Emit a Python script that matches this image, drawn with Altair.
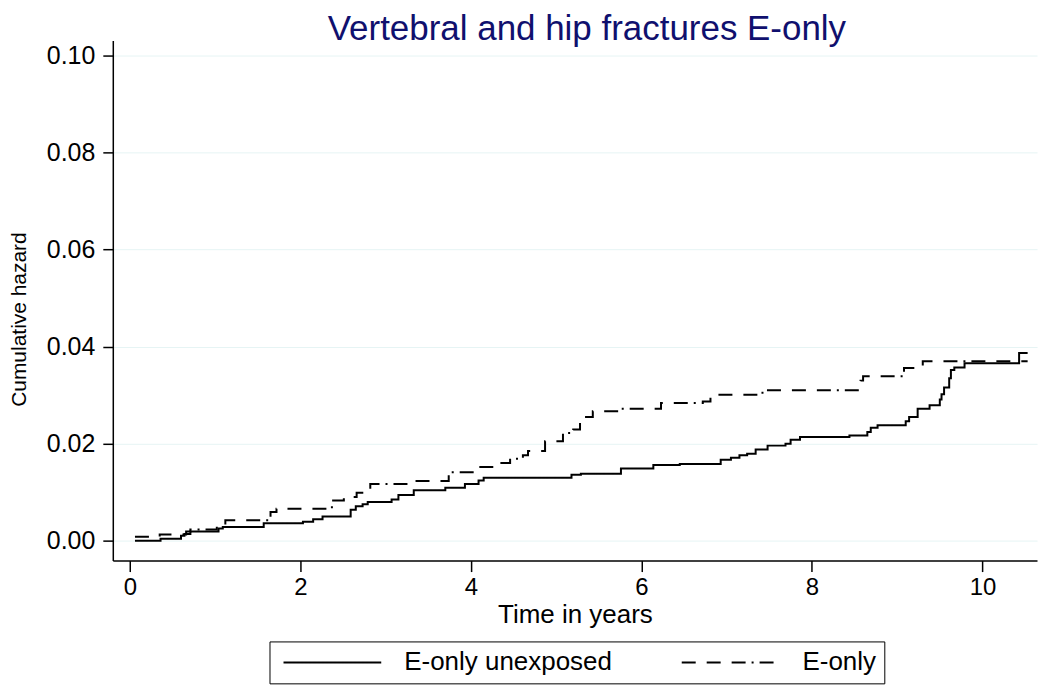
import altair as alt
import pandas as pd

series_names = ["E-only unexposed", "E-only"]

unexp_t = [0.06, 0.36, 0.60, 0.64, 0.71, 1.04, 1.09, 1.57, 2.03, 2.15, 2.26, 2.59, 2.65, 2.73,
           2.79, 3.07, 3.15, 3.33, 3.70, 3.93, 4.09, 4.15, 5.18, 5.29, 5.76, 6.14, 6.45, 6.93,
           7.05, 7.15, 7.24, 7.34, 7.48, 7.69, 7.75, 7.86, 8.44, 8.65, 8.69, 8.77, 9.10, 9.14,
           9.24, 9.38, 9.50, 9.52, 9.55, 9.61, 9.63, 9.67, 9.79, 10.43, 10.53]
unexp_h = [0.0, 0.0004, 0.0010, 0.0014, 0.0019, 0.0025, 0.0028, 0.0036, 0.0039, 0.0044, 0.0050,
           0.0064, 0.0071, 0.0075, 0.0080, 0.0085, 0.0094, 0.0104, 0.0109, 0.0117, 0.0124,
           0.0130, 0.0136, 0.0138, 0.0149, 0.0156, 0.0158, 0.0167, 0.0171, 0.0176, 0.0179,
           0.0188, 0.0196, 0.0200, 0.0208, 0.0214, 0.0217, 0.0224, 0.0233, 0.0238, 0.0246,
           0.0255, 0.0272, 0.0279, 0.0291, 0.0302, 0.0316, 0.0335, 0.0352, 0.0357, 0.0366,
           0.0387, 0.0387]

eonly_t = [0.06, 0.35, 0.66, 0.71, 1.02, 1.12, 1.65, 1.72, 2.37, 2.51, 2.66, 2.82, 3.27, 3.74,
           4.06, 4.34, 4.46, 4.61, 4.67, 4.87, 5.08, 5.20, 5.28, 5.43, 5.75, 6.23, 6.72, 6.81,
           7.42, 8.57, 8.60, 9.08, 9.30, 10.53]
eonly_h = [0.0008, 0.0013, 0.0019, 0.0023, 0.0029, 0.0042, 0.0059, 0.0066, 0.0083, 0.0090,
           0.0099, 0.0117, 0.0123, 0.0141, 0.0152, 0.0160, 0.0169, 0.0176, 0.0185, 0.0205,
           0.0222, 0.0229, 0.0255, 0.0267, 0.0272, 0.0284, 0.0287, 0.0301, 0.0310, 0.0330,
           0.0339, 0.0356, 0.0370, 0.0370]

x_ticks = [0, 2, 4, 6, 8, 10]
y_ticks = [0.00, 0.02, 0.04, 0.06, 0.08, 0.10]

rows = []
for t, h in zip(unexp_t, unexp_h):
    rows.append({"time": t, "hazard": h, "group": series_names[0]})
for t, h in zip(eonly_t, eonly_h):
    rows.append({"time": t, "hazard": h, "group": series_names[1]})
df = pd.DataFrame(rows)

FONT = "Liberation Sans"

chart = alt.Chart(df).mark_line(
    interpolate="step-after", strokeWidth=2, color="black"
).encode(
    x=alt.X("time:Q",
            scale=alt.Scale(domain=[-0.2, 10.64], nice=False, zero=False),
            axis=alt.Axis(values=x_ticks, title="Time in years", grid=False,
                          format="d", tickSize=11, labelPadding=4,
                          titlePadding=2, titleFontSize=26)),
    y=alt.Y("hazard:Q",
            scale=alt.Scale(domain=[-0.0041, 0.1031], nice=False, zero=False),
            axis=alt.Axis(values=y_ticks, title="Cumulative hazard", format=".2f",
                          grid=True, gridColor="#e6f4f4", gridWidth=1,
                          tickSize=10, labelPadding=8, titlePadding=17,
                          labelFontSize=25, titleFontSize=21, titleY=279)),
    strokeDash=alt.StrokeDash(
        "group:N",
        scale=alt.Scale(domain=series_names, range=[[1, 0], [14, 11, 14, 11, 14, 6, 2, 6]]),
        legend=alt.Legend(title=None, orient="none", legendX=157, legendY=602,
                          direction="horizontal",
                          symbolType="M-4.08,0H4.08",
                          symbolSize=576, symbolStrokeWidth=2,
                          symbolStrokeColor="black", symbolFillColor="transparent",
                          labelFontSize=26,
                          labelFont=FONT, labelColor="black", labelLimit=400,
                          labelOffset=59, columnPadding=63, padding=8,
                          strokeColor="black", fillColor="white",
                          symbolOffset=42)),
).properties(
    width=926,
    height=521,
    padding={"left": 0, "top": 3, "right": 5, "bottom": 0},
    title=alt.TitleParams("Vertebral and hip fractures E-only", fontSize=35,
                          font=FONT, fontWeight="normal", color="#10106e",
                          anchor="middle", frame="group", offset=-6, dx=12),
).configure_view(
    stroke=None
).configure_axis(
    domainColor="black", domainWidth=1.5, tickColor="black", tickWidth=1.5,
    labelFont=FONT, labelFontSize=24, labelColor="black",
    titleFont=FONT, titleFontWeight="normal", titleColor="black",
)

chart.save("out.html", embed_options={"renderer": "svg", "actions": False})
